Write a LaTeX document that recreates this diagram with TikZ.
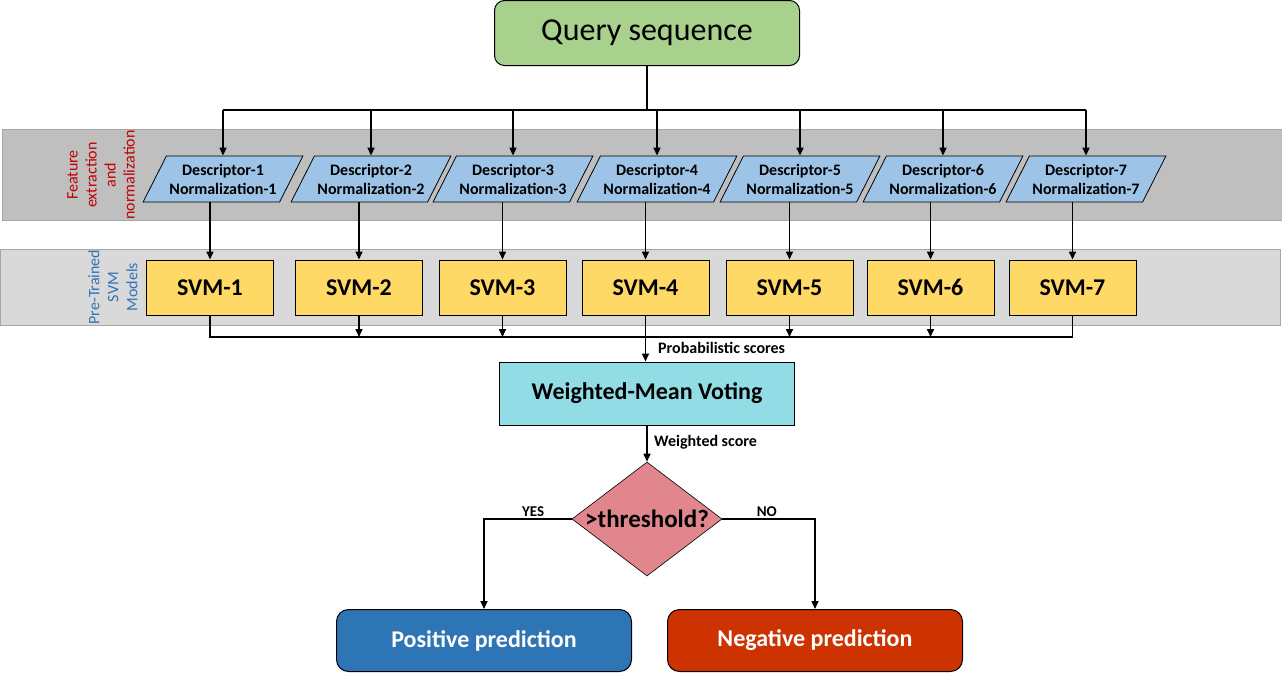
\documentclass[tikz,border=0pt]{standalone}
\usepackage{fontspec}
\setmainfont{Carlito}
\usetikzlibrary{shapes.geometric,arrows.meta}
\definecolor{qgreen}{HTML}{A9D18E}
\definecolor{bandone}{HTML}{BFBFBF}
\definecolor{bandtwo}{HTML}{D9D9D9}
\definecolor{bandedge}{HTML}{A6A6A6}
\definecolor{descblue}{HTML}{9DC3E6}
\definecolor{svmyellow}{HTML}{FFD966}
\definecolor{votecyan}{HTML}{92DCE5}
\definecolor{threshrose}{HTML}{E0868C}
\definecolor{posblue}{HTML}{2E75B6}
\definecolor{negred}{HTML}{CC3300}
\definecolor{featred}{HTML}{C00000}
\definecolor{modelblue}{HTML}{2E75B6}

\begin{document}
\begin{tikzpicture}[x=1pt,y=-1pt]
\tikzstyle{every node}+=[inner sep=0pt]
\tikzstyle{desc}=[trapezium, trapezium left angle=54, trapezium right angle=126, trapezium stretches=true, draw=black, line width=0.8pt, fill=descblue, minimum width=160pt, minimum height=46pt, align=center, font=\fontsize{16}{19}\selectfont\bfseries]
\tikzstyle{svm}=[draw=black, line width=1pt, fill=svmyellow, minimum width=127pt, minimum height=55pt, font=\fontsize{24}{28}\selectfont\bfseries]
\tikzstyle{result}=[draw=black, line width=1pt, rounded corners=12pt, minimum width=295pt, minimum height=62pt, text=white, font=\fontsize{24}{28}\selectfont\bfseries]
\tikzstyle{side}=[rotate=90, align=center, font=\fontsize{16}{19}\selectfont]
\tikzstyle{lbl}=[font=\fontsize{16}{18}\selectfont\bfseries]
\tikzstyle{wire}=[line width=1.6pt]
\tikzstyle{link}=[line width=1.6pt, -{Triangle[length=8pt,width=7pt]}]
\useasboundingbox (0,0) rectangle (1282,672);
\draw [bandedge, fill=bandone, line width=1pt] (2,129) rectangle (1282,220);
\draw [bandedge, fill=bandtwo, line width=1pt] (0,249) rectangle (1280,325);
\node [side, text=featred] (fe) at (101,175) {Feature\\extraction\\and\\normalization};
\node [side, text=modelblue] (pt) at (113,287) {Pre-Trained\\SVM\\Models};
\node [draw=black, line width=1pt, fill=qgreen, rounded corners=10pt, minimum width=305pt, minimum height=65pt, font=\fontsize{32}{36}\selectfont] (q) at (647,33) {Query sequence};
\node [desc] (d1) at (223,179) {Descriptor-1\\Normalization-1};
\node [desc] (d2) at (371,179) {Descriptor-2\\Normalization-2};
\node [desc] (d3) at (513,179) {Descriptor-3\\Normalization-3};
\node [desc] (d4) at (657,179) {Descriptor-4\\Normalization-4};
\node [desc] (d5) at (800,179) {Descriptor-5\\Normalization-5};
\node [desc] (d6) at (943,179) {Descriptor-6\\Normalization-6};
\node [desc] (d7) at (1086,179) {Descriptor-7\\Normalization-7};
\node [svm] (s1) at (210,287.5) {SVM-1};
\node [svm] (s2) at (359,287.5) {SVM-2};
\node [svm] (s3) at (502.5,287.5) {SVM-3};
\node [svm] (s4) at (645.5,287.5) {SVM-4};
\node [svm] (s5) at (789.5,287.5) {SVM-5};
\node [svm] (s6) at (930.5,287.5) {SVM-6};
\node [svm] (s7) at (1072.5,287.5) {SVM-7};
\node [draw=black, line width=1pt, fill=votecyan, minimum width=295pt, minimum height=63pt, font=\fontsize{24}{28}\selectfont\bfseries] (w) at (647,393.5) {Weighted-Mean Voting};
\node [diamond, aspect=1.32, inner sep=-6pt, draw=black, line width=0.6pt, fill=threshrose, minimum width=150pt, minimum height=114pt, font=\fontsize{25}{28}\selectfont\bfseries] (th) at (647,519) {>threshold?};
\node [result, fill=posblue] (pos) at (484,640.5) {Positive prediction};
\node [result, fill=negred] (neg) at (815,640.5) {Negative prediction};
\coordinate (bus) at (647,110);
\coordinate (sbus) at (645,337);
\draw [wire] (q.south) -- (bus);
\draw [wire] (d1.north |- bus) -- (d7.north |- bus);
\draw [link] (d1.north |- bus) -- (d1.north);
\draw [link] (d2.north |- bus) -- (d2.north);
\draw [link] (d3.north |- bus) -- (d3.north);
\draw [link] (d4.north |- bus) -- (d4.north);
\draw [link] (d5.north |- bus) -- (d5.north);
\draw [link] (d6.north |- bus) -- (d6.north);
\draw [link] (d7.north |- bus) -- (d7.north);
\draw [link] (s1.north |- d1.south) -- (s1.north);
\draw [link] (s2.north |- d2.south) -- (s2.north);
\draw [link] (s3.north |- d3.south) -- (s3.north);
\draw [link] (s4.north |- d4.south) -- (s4.north);
\draw [link] (s5.north |- d5.south) -- (s5.north);
\draw [link] (s6.north |- d6.south) -- (s6.north);
\draw [link] (s7.north |- d7.south) -- (s7.north);
\draw [wire] (s1.south) |- (sbus) -| (s7.south);
\draw [link] (s2.south) -- (s2.south |- sbus);
\draw [link] (s3.south) -- (s3.south |- sbus);
\draw [link] (s5.south) -- (s5.south |- sbus);
\draw [link] (s6.south) -- (s6.south |- sbus);
\draw [link] (s4.south) -- (s4.south |- w.north);
\node [lbl, anchor=west] (ps) at (658,348) {Probabilistic scores};
\draw [link] (w.south) -- (th.north);
\node [lbl, anchor=west] (ws) at (654,442) {Weighted score};
\draw [link] (th.west) -| node [lbl, pos=0.22, above=2pt, font=\fontsize{15}{17}\selectfont\bfseries] {YES} (pos.north);
\draw [link] (th.east) -| node [lbl, pos=0.24, above=2pt, font=\fontsize{15}{17}\selectfont\bfseries] {NO} (neg.north);
\end{tikzpicture}
\end{document}
